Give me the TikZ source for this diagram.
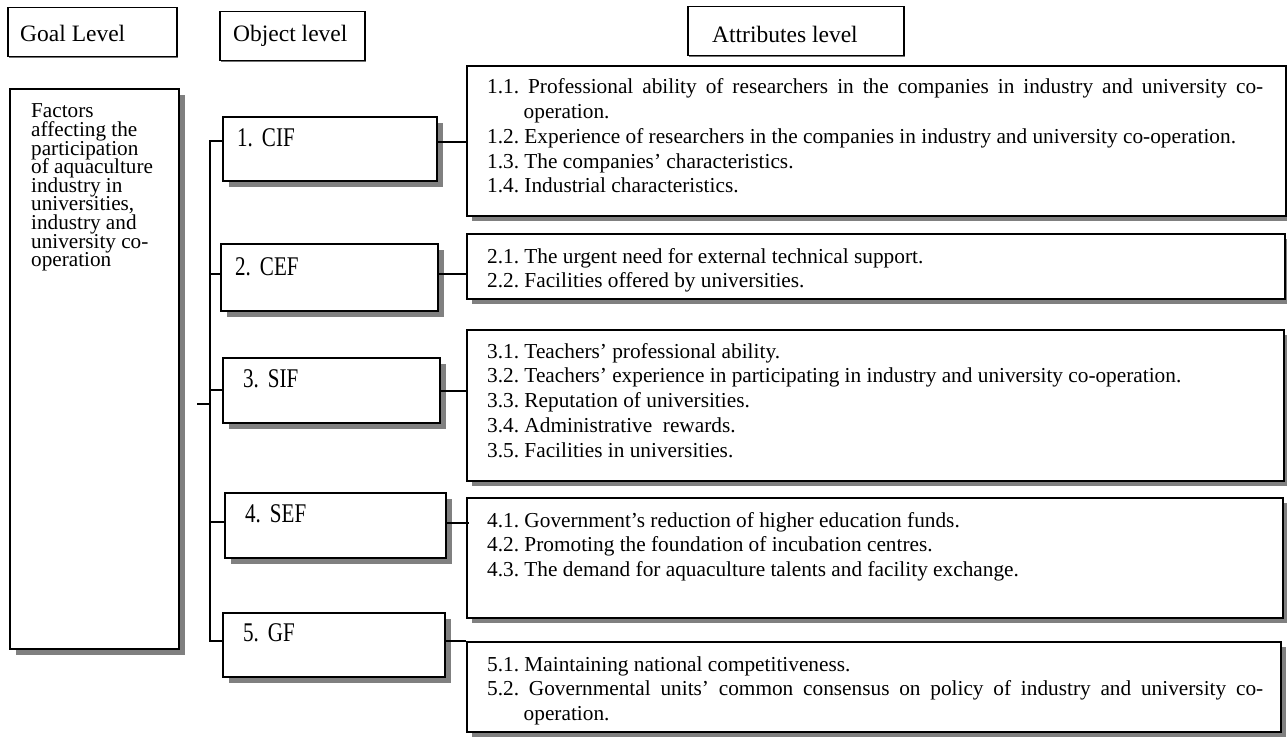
\documentclass[tikz,border=0pt]{standalone}
\usepackage{fontspec}
\setmainfont{Liberation Serif}
\newfontfamily\objfont[FakeStretch=0.78]{Liberation Serif}
\usetikzlibrary{shadows}
\frenchspacing
\newcommand{\attritem}[2]{\par\noindent\hangindent=36.5pt\hangafter=1\relax #1 #2\par}
\tikzset{
  hdrbox/.style={draw, line width=1.5pt, fill=white, inner sep=0pt, anchor=north west,
    drop shadow={shadow xshift=1.2pt, shadow yshift=-1.2pt, fill=black!55, opacity=1}},
  bigbox/.style={draw, line width=1.6pt, fill=white, inner sep=0pt, anchor=north west,
    drop shadow={shadow xshift=6pt, shadow yshift=-6pt, fill=black!50, opacity=1}},
  attrbox/.style={draw, line width=1.6pt, fill=white, inner sep=0pt, anchor=north west,
    drop shadow={shadow xshift=5pt, shadow yshift=-5pt, fill=black!50, opacity=1}},
  hdrtext/.style={anchor=base west, inner sep=0pt, font={\fontsize{23.5pt}{28pt}\selectfont}},
  objtext/.style={anchor=base west, inner sep=0pt, font={\objfont\fontsize{27pt}{30pt}\selectfont}},
  attrtext/.style={anchor=base west, inner sep=0pt, font={\fontsize{21.3pt}{24.75pt}\selectfont}},
  goaltext/.style={anchor=base west, inner sep=0pt, font={\fontsize{21.2pt}{18.6pt}\selectfont}},
  link/.style={draw, line width=1.2pt},
  stub/.style={draw, line width=2pt}
}
\begin{document}
\begin{tikzpicture}[x=1pt,y=-1pt]
\useasboundingbox (0,0) rectangle (1287,738);
\fill[white] (0,0) rectangle (1287,738);

% header boxes
\node[hdrbox, minimum width=169pt, minimum height=49pt] (h1) at (7,7) {};
\node[hdrtext] (h1t) at (20,42) {Goal Level};
\node[hdrbox, minimum width=145pt, minimum height=49pt] (h2) at (219,11) {};
\node[hdrtext] (h2t) at (233,42) {Object level};
\node[hdrbox, minimum width=216pt, minimum height=49pt] (h3) at (687,6) {};
\node[hdrtext] (h3t) at (712,43) {Attributes level};

% goal box
\node[bigbox, minimum width=169pt, minimum height=560pt] (g) at (9,88) {};
\node[goaltext] (gt) at (31,118) {\parbox[t]{145pt}{\lineskiplimit=-50pt\raggedright
Factors\\affecting the\\participation\\of aquaculture\\industry in\\universities,\\industry and\\university co-\\operation}};

% object boxes
\node[bigbox, minimum width=214pt, minimum height=64pt] (o1) at (222,116) {};
\node[objtext] (o1t) at (237,147) {1.\hspace{9pt}CIF};
\node[bigbox, minimum width=217pt, minimum height=67pt] (o2) at (220,243) {};
\node[objtext] (o2t) at (235,275) {2.\hspace{9pt}CEF};
\node[bigbox, minimum width=217pt, minimum height=65pt] (o3) at (222,357) {};
\node[objtext] (o3t) at (243,387) {3.\hspace{9pt}SIF};
\node[bigbox, minimum width=221pt, minimum height=65pt] (o4) at (224,492) {};
\node[objtext] (o4t) at (245,522) {4.\hspace{9pt}SEF};
\node[bigbox, minimum width=222pt, minimum height=64pt] (o5) at (222,612) {};
\node[objtext] (o5t) at (243,641) {5.\hspace{9pt}GF};

% attribute boxes
\node[attrbox, minimum width=819pt, minimum height=150pt] (a1) at (466,65) {};
\node[attrtext] (a1t) at (487,94) {\parbox[t]{776pt}{%
\attritem{1.1.}{Professional ability of researchers in the companies in industry and university co-\linebreak operation.}%
\attritem{1.2.}{Experience of researchers in the companies in industry and university co-operation.}%
\attritem{1.3.}{The companies’ characteristics.}%
\attritem{1.4.}{Industrial characteristics.}}};

\node[attrbox, minimum width=818pt, minimum height=65pt] (a2) at (466,233) {};
\node[attrtext] (a2t) at (487,263) {\parbox[t]{776pt}{%
\attritem{2.1.}{The urgent need for external technical support.}%
\attritem{2.2.}{Facilities offered by universities.}}};

\node[attrbox, minimum width=817pt, minimum height=151pt] (a3) at (466,329) {};
\node[attrtext] (a3t) at (487,358) {\parbox[t]{776pt}{%
\attritem{3.1.}{Teachers’ professional ability.}%
\attritem{3.2.}{Teachers’ experience in participating in industry and university co-operation.}%
\attritem{3.3.}{Reputation of universities.}%
\attritem{3.4.}{Administrative~ rewards.}%
\attritem{3.5.}{Facilities in universities.}}};

\node[attrbox, minimum width=816pt, minimum height=120pt] (a4) at (466,497) {};
\node[attrtext] (a4t) at (487,527) {\parbox[t]{776pt}{%
\attritem{4.1.}{Government’s reduction of higher education funds.}%
\attritem{4.2.}{Promoting the foundation of incubation centres.}%
\attritem{4.3.}{The demand for aquaculture talents and facility exchange.}}};

\node[attrbox, minimum width=814pt, minimum height=90pt] (a5) at (466,641) {};
\node[attrtext] (a5t) at (487,671) {\parbox[t]{776pt}{%
\attritem{5.1.}{Maintaining national competitiveness.}%
\attritem{5.2.}{Governmental units’ common consensus on policy of industry and university co-\linebreak operation.}}};

% bus on the left
\coordinate (b1) at (210,141);
\coordinate (b2) at (210,274);
\coordinate (b3) at (210,390);
\coordinate (b4) at (210,522);
\coordinate (b5) at (210,641);
\coordinate (gs) at (197,404);
\draw[link] (b1 -| o1.west) -- (b1) -- (b5) -- (b5 -| o5.west);
\draw[link] (b2) -- (b2 -| o2.west);
\draw[link] (b3) -- (b3 -| o3.west);
\draw[link] (b4) -- (b4 -| o4.west);
\draw[stub] (gs) -- (gs -| b1);

% connectors to attributes
\coordinate (r1) at (450,142);
\coordinate (r2) at (450,274);
\coordinate (r3) at (450,391);
\coordinate (r4) at (450,523);
\draw[link] (r1 -| o1.east) -- (r1 -| a1.west);
\draw[link] (r2 -| o2.east) -- (r2 -| a2.west);
\draw[link] (r3 -| o3.east) -- (r3 -| a3.west);
\draw[link] (r4 -| o4.east) -- ([xshift=3pt]r4 -| a4.west);
\draw[link] (a5.north west -| o5.east) -- (a5.north west);
\end{tikzpicture}
\end{document}
